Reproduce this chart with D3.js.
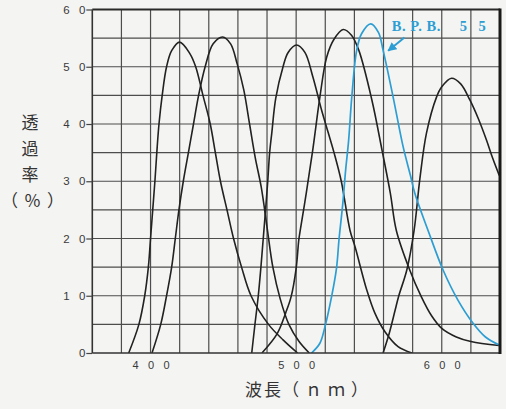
<!DOCTYPE html>
<html>
<head>
<meta charset="utf-8">
<script src="https://cdn.jsdelivr.net/npm/d3@7"></script>
<style>
  body { margin: 0; background: #f4f4f2; }
  svg { display: block; }
</style>
</head>
<body>
<div id="chart"></div>
<script>
var width = 506,
    height = 409;

// 波長(nm), 透過率(%)
var bpb42 = [[385,0],[392,5],[396,10],[398.5,15],[400,20],[401.5,25],[403,30],[404.3,35],[405.8,40],[408,45],[411,50],[414.5,52.8],[420,54.3],[427,52.3],[431,50],[436,45],[441,40],[444.5,35],[448,30],[452.5,25],[457,20],[462.5,15],[469,10],[481,5],[491,2.3],[501,0]];
var bpb45 = [[401,0],[407,5],[411,10],[414.5,15],[417,20],[419.5,25],[422.5,30],[426,35],[429.5,40],[433,45],[437.5,50],[443,54],[449.5,55.2],[455,54],[459.5,50.5],[464,46],[468,40],[472,34],[476,29],[480,22],[484,15],[489,9.5],[495,5],[502,2],[509,0]];
var bpb50 = [[469.5,0],[471.7,5],[474,10],[475.8,15],[477.4,20],[479,25],[480.5,30],[481.8,35],[483.3,38.5],[486,44.5],[491,50],[494.5,52.5],[500.3,53.8],[506,52.5],[511.5,48.2],[517.5,42.4],[522,38.5],[526,35],[531,30],[537,21.4],[540.5,18.5],[548.5,11],[554,7],[561,3.7],[570,1.1],[579.5,0]];
var bpb53 = [[476.5,0],[487,3.4],[492.8,7],[496.5,9.8],[500,14.8],[501.8,19.7],[502.8,21.4],[507,28],[511.7,36],[516.3,44.7],[521,51.7],[526,54.8],[532.3,56.5],[538,55.5],[543,52.9],[552,44.2],[559,35.4],[564.7,27.9],[568.8,21.4],[578,14.5],[586,9.8],[593,6.5],[600,4.3],[610,2.8],[620,2],[639.5,1.3]];
var bpb55 = [[510.6,0],[516.3,1.7],[519.8,4.6],[524.3,9.8],[527.7,14.8],[529.5,20],[532,26],[534,32],[536,37],[538.2,44.7],[541.6,52.9],[545,55.8],[551.2,57.5],[556.5,56],[559.7,52.9],[566.6,44.7],[573.5,36],[578.5,31],[581.5,27.9],[590.6,21.4],[600.9,14.5],[611.2,9.2],[621.5,5.2],[630,2.8],[639.5,1.4]];
var bpb60 = [[559.7,0],[564,3.5],[568,7.5],[570.5,10],[576,14.5],[581,21.4],[585,30.5],[589.5,38.4],[596.4,44.7],[600,46.5],[606.7,48],[613,47],[619.3,44.2],[625,41],[630.7,37.2],[635,34],[639.5,31]];

var blackSeries = [bpb42, bpb45, bpb50, bpb53, bpb60];
var blueSeries = bpb55;
var blueName = "B. P. B.";
var blueNumber = "55";

var xTicks = [400, 500, 600];
var yTicks = [0, 10, 20, 30, 40, 50, 60];
var yTitle = ["透", "過", "率"];

var x = d3.scaleLinear().domain([360, 640]).range([92.3, 500]);
var y = d3.scaleLinear().domain([0, 60]).range([353, 9.5]);

var svg = d3.select("#chart")
  .append("svg")
    .attr("width", width)
    .attr("height", height);

svg.append("rect")
  .attr("width", width)
  .attr("height", height)
  .attr("fill", "#f4f4f2");

// 격자
var grid = svg.append("g").attr("stroke", "#4d4d4d").attr("stroke-width", 1.2);
grid.selectAll(".vline")
  .data(d3.range(380, 640, 20))
  .enter()
  .append("line")
    .attr("x1", function(d) { return x(d); })
    .attr("x2", function(d) { return x(d); })
    .attr("y1", y(60))
    .attr("y2", y(0));
grid.selectAll(".hline")
  .data(d3.range(5, 60, 5))
  .enter()
  .append("line")
    .attr("x1", x(360))
    .attr("x2", x(640))
    .attr("y1", function(d) { return y(d); })
    .attr("y2", function(d) { return y(d); });

// 곡선
svg.append("clipPath").attr("id", "clip")
  .append("rect")
    .attr("x", x(360)).attr("y", y(60))
    .attr("width", x(640) - x(360)).attr("height", y(0) - y(60));

var line = d3.line()
  .x(function(d) { return x(d[0]); })
  .y(function(d) { return y(d[1]); })
  .curve(d3.curveCatmullRom.alpha(0.5));

var curves = svg.append("g").attr("clip-path", "url(#clip)");
curves.selectAll(".black")
  .data(blackSeries)
  .enter()
  .append("path")
    .attr("d", line)
    .attr("fill", "none")
    .attr("stroke", "#222")
    .attr("stroke-width", 1.6);
curves.append("path")
  .attr("d", line(blueSeries))
  .attr("fill", "none")
  .attr("stroke", "#2d9ed3")
  .attr("stroke-width", 1.7);

// 테두리
svg.append("line").attr("x1", x(360)).attr("x2", x(640)).attr("y1", y(60)).attr("y2", y(60))
  .attr("stroke", "#2a2a2a").attr("stroke-width", 2);
svg.append("line").attr("x1", x(360)).attr("x2", x(640)).attr("y1", y(0)).attr("y2", y(0))
  .attr("stroke", "#333").attr("stroke-width", 1.6);
svg.append("line").attr("x1", x(360)).attr("x2", x(360)).attr("y1", y(60)).attr("y2", y(0))
  .attr("stroke", "#333").attr("stroke-width", 1.6);
svg.append("line").attr("x1", x(640)).attr("x2", x(640)).attr("y1", y(60) - 1).attr("y2", y(0) + 1)
  .attr("stroke", "#1a1a1a").attr("stroke-width", 3);

// 축
var ls = 9.3;
var yAxis = svg.append("g")
  .attr("transform", "translate(" + x(360) + ",0)")
  .call(d3.axisLeft(y).tickValues(yTicks).tickSize(6).tickSizeOuter(0).tickPadding(1)
    .tickFormat(function(d) { return d; }));
yAxis.select(".domain").remove();
yAxis.selectAll("line").attr("stroke", "#444").attr("stroke-width", 1.2);
yAxis.selectAll("text")
  .attr("dx", ls)
  .style("letter-spacing", ls + "px")
  .style("font-family", "'Liberation Sans', Arial, sans-serif")
  .style("font-size", "11.5px")
  .attr("fill", "#3a3a3a");

var xAxis = svg.append("g")
  .attr("transform", "translate(0," + y(0) + ")")
  .call(d3.axisBottom(x).tickValues(xTicks).tickSize(0).tickPadding(8));
xAxis.select(".domain").remove();
xAxis.selectAll("text")
  .attr("dx", ls / 2)
  .style("letter-spacing", ls + "px")
  .style("font-family", "'Liberation Sans', Arial, sans-serif")
  .style("font-size", "11px")
  .attr("fill", "#3a3a3a");

// 축 제목
var jp = "'Noto Sans CJK JP', sans-serif";
svg.selectAll(".ytitle")
  .data(yTitle)
  .enter()
  .append("text")
    .attr("x", 30)
    .attr("y", function(d, i) { return 129 + i * 26; })
    .attr("text-anchor", "middle")
    .style("font-family", jp)
    .style("font-size", "17px")
    .attr("fill", "#333")
    .text(function(d) { return d; });
svg.append("text")
  .attr("x", 1).attr("y", 207)
  .style("font-family", jp).style("font-size", "17px")
  .style("letter-spacing", "6px")
  .attr("fill", "#333")
  .text("（％）");

svg.append("text")
  .attr("x", 245).attr("y", 396)
  .style("font-family", jp).style("font-size", "17px")
  .style("letter-spacing", "2px")
  .attr("fill", "#333")
  .text("波長");
svg.append("text")
  .attr("x", 282).attr("y", 396)
  .style("font-family", jp).style("font-size", "17px")
  .style("letter-spacing", "6px")
  .attr("fill", "#333")
  .text("（ｎｍ）");

// B.P.B. 55 표시
var blue = "#2d9ed3";
svg.append("text")
  .attr("x", x(565.7)).attr("y", 31)
  .style("font-family", "'Liberation Serif', serif")
  .style("font-size", "14.5px")
  .style("font-weight", "bold")
  .style("letter-spacing", "0.5px")
  .attr("fill", blue)
  .text(blueName);
svg.append("text")
  .attr("x", x(612.3)).attr("y", 31)
  .style("font-family", "'Liberation Serif', serif")
  .style("font-size", "14.5px")
  .style("font-weight", "bold")
  .style("letter-spacing", "11.5px")
  .attr("fill", blue)
  .text(blueNumber);

svg.append("defs").append("marker")
  .attr("id", "arrow")
  .attr("viewBox", "0 0 10 10")
  .attr("refX", 9).attr("refY", 5)
  .attr("markerWidth", 4.5).attr("markerHeight", 4.5)
  .attr("orient", "auto")
  .append("path")
    .attr("d", "M0,0L10,5L0,10z")
    .attr("fill", blue);
svg.append("line")
  .attr("x1", x(574.4)).attr("y1", y(55.1))
  .attr("x2", x(563.2)).attr("y2", y(52.8))
  .attr("stroke", blue)
  .attr("stroke-width", 2)
  .attr("marker-end", "url(#arrow)");
</script>
</body>
</html>
